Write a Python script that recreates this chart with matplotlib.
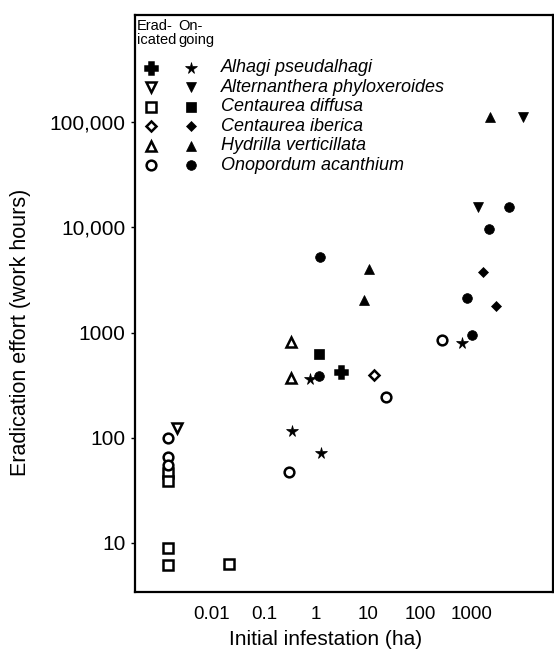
import matplotlib
matplotlib.use("Agg")
import matplotlib.pyplot as plt

plt.rcParams["font.family"] = ["Liberation Sans", "DejaVu Sans"]

# species, markers for eradicated (open) and ongoing (filled) programmes
species = ["Alhagi pseudalhagi", "Alternanthera phyloxeroides", "Centaurea diffusa",
           "Centaurea iberica", "Hydrilla verticillata", "Onopordum acanthium"]
erad_markers = ["P", "v", "s", "D", "^", "o"]
ongo_markers = ["*", "v", "s", "D", "^", "o"]

# eradicated: initial infestation (ha), effort (work hours)
erad_x = [
    [3.0],
    [0.0021],
    [0.0014, 0.0014, 0.0014, 0.0014, 0.021],
    [13],
    [0.33, 0.33],
    [0.0014, 0.0014, 0.0014, 0.30, 22, 265],
]
erad_y = [
    [420],
    [125],
    [46, 39, 8.9, 6.2, 6.3],
    [395],
    [810, 370],
    [100, 66, 55, 47, 245, 850],
]

# ongoing
ongo_x = [
    [0.77, 0.34, 1.25, 640],
    [9500, 1300],
    [1.14],
    [1620, 2900],
    [2200, 10.5, 8.4],
    [1.14, 1000, 5100, 2130, 1.19, 800],
]
ongo_y = [
    [360, 115, 72, 795],
    [112000, 15600],
    [630],
    [3760, 1780],
    [112000, 4000, 2030],
    [390, 950, 15600, 9600, 5200, 2130],
]

xticks = [0.01, 0.1, 1, 10, 100, 1000]
xtick_labels = ["0.01", "0.1", "1", "10", "100", "1000"]
yticks = [10, 100, 1000, 10000, 100000]
ytick_labels = ["10", "100", "1000", "10,000", "100,000"]

fig = plt.figure(figsize=(5.54, 6.55), dpi=100)
ax = fig.add_axes([0.2437, 0.0962, 0.7545, 0.8809])
ax.set_xscale("log")
ax.set_yscale("log")
ax.set_xlim(10 ** -3.48, 10 ** 4.56)
ax.set_ylim(10 ** 0.534, 10 ** 6.02)


def msize(m):
    return {"*": 8.5, "P": 8, "D": 5.5}.get(m, 7)


for i in range(len(species)):
    m = erad_markers[i]
    ax.plot(erad_x[i], erad_y[i], linestyle="none", marker=m, markersize=msize(m),
            markerfacecolor="black" if m == "P" else "white",
            markeredgecolor="black", markeredgewidth=1.8, zorder=3)
    m = ongo_markers[i]
    ax.plot(ongo_x[i], ongo_y[i], linestyle="none", marker=m, markersize=msize(m),
            color="black", markeredgewidth=0.5, zorder=3)

ax.set_xticks(xticks, xtick_labels)
ax.set_yticks(yticks, ytick_labels)
ax.minorticks_off()
ax.tick_params(axis="x", length=0, labelsize=13.5, pad=10)
ax.tick_params(axis="y", length=3, width=1, labelsize=15, pad=4)
for s in ax.spines.values():
    s.set_linewidth(1.6)

ax.set_xlabel("Initial infestation (ha)", fontsize=15, labelpad=5, x=0.455)
ax.set_ylabel("Eradication effort (work hours)", fontsize=15.5, labelpad=13, y=0.45)


# legend block drawn in axes coordinates, top-left
def ax_xy(px, py):
    return (px - 135) / 418, (592 - py) / 577


hx, hy = ax_xy(137, 19)
ax.text(hx, hy, "Erad-\nicated", transform=ax.transAxes, fontsize=10.5,
        va="top", ha="left", linespacing=1.0)
hx, hy = ax_xy(178, 19)
ax.text(hx, hy, "On-\ngoing", transform=ax.transAxes, fontsize=10.5,
        va="top", ha="left", linespacing=1.0)

for i, name in enumerate(species):
    py = 68 + i * 19.5
    x1, y1 = ax_xy(151, py)
    x2, _ = ax_xy(191, py)
    xt, _ = ax_xy(221, py)
    m = erad_markers[i]
    ax.plot([x1], [y1], transform=ax.transAxes, linestyle="none", marker=m,
            markersize=msize(m),
            markerfacecolor="black" if m == "P" else "white",
            markeredgecolor="black", markeredgewidth=1.8, clip_on=False)
    m = ongo_markers[i]
    ax.plot([x2], [y1], transform=ax.transAxes, linestyle="none", marker=m,
            markersize=msize(m), color="black", markeredgewidth=0.5, clip_on=False)
    ax.text(xt, y1, name, transform=ax.transAxes, fontsize=13,
            style="italic", va="center", ha="left")

fig.savefig("out.png", dpi=100)
